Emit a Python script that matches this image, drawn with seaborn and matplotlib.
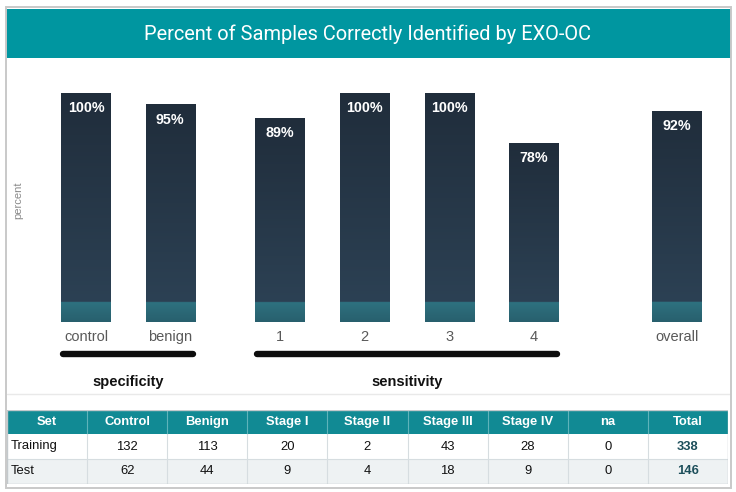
import numpy as np
import pandas as pd
import matplotlib
matplotlib.use("Agg")
import matplotlib.pyplot as plt
import matplotlib.transforms as mtransforms
from matplotlib.patches import Rectangle
from matplotlib.lines import Line2D
from matplotlib.colors import to_rgb
import seaborn as sns

# ---------------- data ----------------
categories = ["control", "benign", "1", "2", "3", "4", "overall"]
percent_correct = [100, 95, 89, 100, 100, 78, 92]
group_names = ["specificity", "sensitivity"]
group_members = [["control", "benign"], ["1", "2", "3", "4"]]

table_columns = ["Set", "Control", "Benign", "Stage I", "Stage II",
                 "Stage III", "Stage IV", "na", "Total"]
table_sets = ["Training", "Test"]
control_n = [132, 62]
benign_n = [113, 44]
stage1_n = [20, 9]
stage2_n = [2, 4]
stage3_n = [43, 18]
stage4_n = [28, 9]
na_n = [0, 0]
total_n = [338, 146]

# ---------------- layout ----------------
bar_positions = [0, 0.99, 2.28, 3.28, 4.28, 5.27, 6.95]
W, H = 736, 492

sns.set_theme(style="white")
plt.rcParams["font.family"] = ["Liberation Sans", "DejaVu Sans"]

fig = plt.figure(figsize=(W / 100, H / 100), dpi=100)
fig.patch.set_facecolor("white")


def fx(px):
    return px / W


def fy(py):
    return 1 - py / H


# outer frame
fig.patches.append(Rectangle((fx(6), fy(488)), fx(731) - fx(6), fy(7) - fy(488),
                             transform=fig.transFigure, facecolor="none",
                             edgecolor="#c9c9c9", lw=1.4, zorder=5))
# title band
fig.patches.append(Rectangle((fx(6), fy(58)), fx(731) - fx(6), fy(9) - fy(58),
                             transform=fig.transFigure, facecolor="#0096a0",
                             edgecolor="none", zorder=1))
fig.text(fx(368), fy(34), "Percent of Samples Correctly Identified by EXO-OC",
         ha="center", va="center", color="white", fontsize=14.4,
         family=["Roboto", "DejaVu Sans"], zorder=3)

# separator between chart and table
fig.add_artist(Line2D([fx(7), fx(730)], [fy(394), fy(394)], transform=fig.transFigure,
                      color="#e9e9e9", lw=1.0))

# ---------------- bars ----------------
ax = fig.add_axes([fx(6), fy(322), fx(731) - fx(6), fy(93) - fy(322)])
df = pd.DataFrame({"pos": bar_positions, "percent": percent_correct, "cat": categories})
sns.barplot(data=df, x="pos", y="percent", native_scale=True, width=0.585,
            color="#26374a", saturation=1, errorbar=None, ax=ax)

xlim = ((6 - 86) / 85, (731 - 86) / 85)
top_c = np.array(to_rgb("#202d3b"))
bot_c = np.array(to_rgb("#2c4154"))
teal_top = np.array(to_rgb("#2e7280"))
teal_bot = np.array(to_rgb("#285f6d"))
band = 8.7
N = 500
for p in ax.patches:
    x0, w, h = p.get_x(), p.get_width(), p.get_height()
    ys = np.linspace(h, 0, N)
    arr = np.zeros((N, 1, 3))
    for i, yv in enumerate(ys):
        if yv >= band:
            t = (h - yv) / (h - band)
            arr[i, 0] = top_c + t * (bot_c - top_c)
        else:
            t = (band - yv) / band
            arr[i, 0] = teal_top + t * (teal_bot - teal_top)
    im = ax.imshow(arr, extent=[x0, x0 + w, 0, h], origin="upper", aspect="auto",
                   interpolation="bilinear", zorder=p.get_zorder() + 0.1)
    im.set_clip_path(p)
    ax.text(x0 + w / 2, h - 6.6, f"{h:.0f}%", ha="center", va="center",
            color="white", fontsize=10.3, fontweight="bold", zorder=5)

ax.set_xlim(*xlim)
ax.set_ylim(0, 100)
ax.set_xticks(bar_positions)
ax.set_xticklabels(categories)
ax.tick_params(axis="x", length=0, pad=6, labelsize=10.5, labelcolor="#595959")
ax.set_yticks([])
ax.set_xlabel("")
ax.set_ylabel("")
for s in ax.spines.values():
    s.set_visible(False)
ax.patch.set_alpha(0)

fig.text(fx(18), fy(200), "percent", rotation=90, ha="center", va="center",
         color="#8a8a8a", fontsize=8)

# group brackets and labels
blend = mtransforms.blended_transform_factory(ax.transData, fig.transFigure)
patch_by_cat = dict(zip(categories, ax.patches))
for name, members in zip(group_names, group_members):
    first = patch_by_cat[members[0]]
    last = patch_by_cat[members[-1]]
    xa = first.get_x() + 0.02
    xb = last.get_x() + last.get_width() - 0.02
    ax.add_line(Line2D([xa, xb], [fy(354), fy(354)], transform=blend, color="#0d0d0d",
                       lw=4.6, solid_capstyle="round", clip_on=False))
    ax.text((xa + xb) / 2, fy(382), name, transform=blend, ha="center", va="center",
            fontsize=10.5, fontweight="bold", color="#111111")

# ---------------- table ----------------
tdf = pd.DataFrame({
    "Set": table_sets, "Control": control_n, "Benign": benign_n,
    "Stage I": stage1_n, "Stage II": stage2_n, "Stage III": stage3_n,
    "Stage IV": stage4_n, "na": na_n, "Total": total_n,
})
tx0, tx1, ty0, ty1 = 7, 728, 410, 484
tax = fig.add_axes([fx(tx0), fy(ty1), fx(tx1) - fx(tx0), fy(ty0) - fy(ty1)])
ncol = len(table_columns)
tax.set_xlim(0, ncol)
tax.set_ylim(ty1 - ty0, 0)
tax.axis("off")
row_edges = [0, 24, 49, 74]
row_bgs = ["#118a94", "white", "#eef2f3"]
for r in range(3):
    tax.add_patch(Rectangle((0, row_edges[r]), ncol, row_edges[r + 1] - row_edges[r],
                            facecolor=row_bgs[r], edgecolor="none", zorder=1))
# grid lines
for c in range(1, ncol):
    tax.plot([c, c], [0, 24], color="#5fb3ba", lw=0.8, zorder=2)
    tax.plot([c, c], [24, 74], color="#d6dde0", lw=0.8, zorder=2)
for yv in [49]:
    tax.plot([0, ncol], [yv, yv], color="#d6dde0", lw=0.8, zorder=2)
tax.add_patch(Rectangle((0, 0), ncol, 74, facecolor="none", edgecolor="#c3c9cc",
                        lw=1.0, zorder=3))
fs = 9.4
for c, col in enumerate(table_columns):
    tax.text(c + 0.5, 12, col, ha="center", va="center", color="white",
             fontsize=fs, fontweight="bold", zorder=4)
for r, (_, row) in enumerate(tdf.iterrows()):
    yc = (row_edges[r + 1] + row_edges[r + 2]) / 2
    for c, col in enumerate(table_columns):
        val = row[col]
        if col == "Set":
            tax.text(c + 0.04, yc, str(val), ha="left", va="center", color="#111111",
                     fontsize=fs, zorder=4)
        elif col == "Total":
            tax.text(c + 0.5, yc, str(val), ha="center", va="center", color="#1d4f5b",
                     fontsize=fs, fontweight="bold", zorder=4)
        else:
            tax.text(c + 0.5, yc, str(val), ha="center", va="center", color="#111111",
                     fontsize=fs, zorder=4)

fig.savefig("out.png", dpi=100)
